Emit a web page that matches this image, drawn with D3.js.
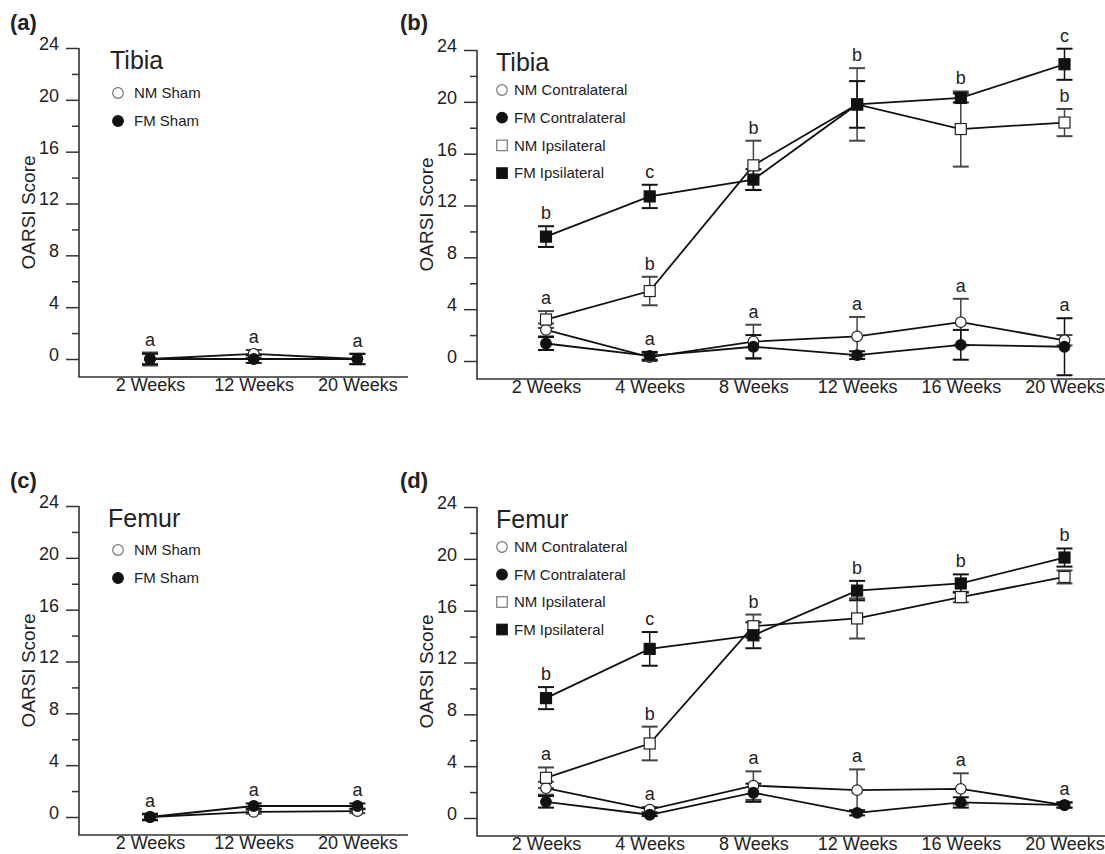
<!DOCTYPE html>
<html>
<head>
<meta charset="utf-8">
<script src="https://cdn.jsdelivr.net/npm/d3@7"></script>
<style>
  body { margin: 0; background: #fff; }
  text { font-family: "Liberation Sans", Arial, sans-serif; fill: #222; }
</style>
</head>
<body>
<div id="canvas"></div>
<script>
"use strict"

/***********************************
 DATA
************************************/
let shamWeeks = ["2 Weeks", "12 Weeks", "20 Weeks"];
let surgWeeks = ["2 Weeks", "4 Weeks", "8 Weeks", "12 Weeks", "16 Weeks", "20 Weeks"];
let yTicks = [0, 4, 8, 12, 16, 20, 24];
let yMinorTicks = [2, 6, 10, 14, 18, 22];

// (a) tibia sham
let tibiaShamNM = [0, 0.4, 0];
let tibiaShamNMErr = [0.5, 0.3, 0.4];
let tibiaShamFM = [0, 0, 0];
let tibiaShamFMErr = [0.4, 0.3, 0.4];

// (b) tibia surgical groups
let tibiaNMContra = [2.4, 0.3, 1.5, 1.9, 3.0, 1.6];
let tibiaNMContraErr = [0.5, 0.3, 1.3, 1.5, 1.8, 0.4];
let tibiaFMContra = [1.35, 0.4, 1.1, 0.45, 1.25, 1.1];
let tibiaFMContraErr = [0.5, 0.3, 0.9, 0.3, 1.15, 2.2];
let tibiaNMIpsi = [3.2, 5.4, 15.1, 19.8, 17.9, 18.4];
let tibiaNMIpsiErr = [0.65, 1.1, 1.9, 2.8, 2.9, 1.05];
let tibiaFMIpsi = [9.6, 12.7, 14.0, 19.8, 20.3, 22.9];
let tibiaFMIpsiErr = [0.8, 0.9, 0.8, 1.8, 0.35, 1.2];

// (c) femur sham
let femurShamNM = [0, 0.4, 0.45];
let femurShamNMErr = [0.2, 0.15, 0.15];
let femurShamFM = [0, 0.85, 0.85];
let femurShamFMErr = [0.25, 0.2, 0.2];

// (d) femur surgical groups
let femurNMContra = [2.3, 0.65, 2.5, 2.15, 2.25, 1.0];
let femurNMContraErr = [0.5, 0.2, 1.1, 1.6, 1.2, 0.2];
let femurFMContra = [1.25, 0.25, 1.95, 0.4, 1.2, 1.0];
let femurFMContraErr = [0.45, 0.1, 0.7, 0.2, 0.4, 0.2];
let femurNMIpsi = [3.1, 5.75, 14.8, 15.4, 17.05, 18.6];
let femurNMIpsiErr = [0.8, 1.3, 0.9, 1.55, 0.4, 0.5];
let femurFMIpsi = [9.25, 13.05, 14.1, 17.55, 18.1, 20.1];
let femurFMIpsiErr = [0.85, 1.3, 1.0, 0.75, 0.7, 0.7];

// significance letters: which series' error bars each letter sits above
// series order: 0 NM Contra, 1 FM Contra, 2 NM Ipsi, 3 FM Ipsi
let shamLetters = [
    { week: "2 Weeks", text: "a", over: [0, 1] },
    { week: "12 Weeks", text: "a", over: [0, 1] },
    { week: "20 Weeks", text: "a", over: [0, 1] }
];
let tibiaLetters = [
    { week: "2 Weeks", text: "b", over: [3] },
    { week: "2 Weeks", text: "a", over: [0, 1, 2] },
    { week: "4 Weeks", text: "c", over: [3] },
    { week: "4 Weeks", text: "b", over: [2] },
    { week: "4 Weeks", text: "a", over: [0, 1] },
    { week: "8 Weeks", text: "b", over: [2, 3] },
    { week: "8 Weeks", text: "a", over: [0, 1] },
    { week: "12 Weeks", text: "b", over: [2, 3] },
    { week: "12 Weeks", text: "a", over: [0, 1] },
    { week: "16 Weeks", text: "b", over: [2, 3] },
    { week: "16 Weeks", text: "a", over: [0, 1] },
    { week: "20 Weeks", text: "c", over: [3] },
    { week: "20 Weeks", text: "b", over: [2] },
    { week: "20 Weeks", text: "a", over: [0, 1] }
];
let femurLetters = [
    { week: "2 Weeks", text: "b", over: [3] },
    { week: "2 Weeks", text: "a", over: [0, 1, 2] },
    { week: "4 Weeks", text: "c", over: [3] },
    { week: "4 Weeks", text: "b", over: [2] },
    { week: "4 Weeks", text: "a", over: [0, 1] },
    { week: "8 Weeks", text: "b", over: [2, 3] },
    { week: "8 Weeks", text: "a", over: [0, 1] },
    { week: "12 Weeks", text: "b", over: [2, 3] },
    { week: "12 Weeks", text: "a", over: [0, 1] },
    { week: "16 Weeks", text: "b", over: [2, 3] },
    { week: "16 Weeks", text: "a", over: [0, 1] },
    { week: "20 Weeks", text: "b", over: [2, 3] },
    { week: "20 Weeks", text: "a", over: [0, 1] }
];

/***********************************
 CONFIGURATION
************************************/
let svgWidth = 1105;
let svgHeight = 854;
let axisSpan = 311;      // pixels between 0 and 24
let belowZero = 18;      // x axis sits this far below the 0 tick
let step = 103.7;        // spacing between weeks
let capWidth = 16;

let svg = d3.select("#canvas")
    .append("svg")
    .attr("width", svgWidth)
    .attr("height", svgHeight);

function shamSeries(nm, nmErr, fm, fmErr) {
    return [
        { name: "NM Sham", shape: "circle", filled: false, values: nm, errors: nmErr },
        { name: "FM Sham", shape: "circle", filled: true, values: fm, errors: fmErr }
    ];
}

function surgSeries(nmc, nmcErr, fmc, fmcErr, nmi, nmiErr, fmi, fmiErr) {
    return [
        { name: "NM Contralateral", shape: "circle", filled: false, values: nmc, errors: nmcErr },
        { name: "FM Contralateral", shape: "circle", filled: true, values: fmc, errors: fmcErr },
        { name: "NM Ipsilateral", shape: "square", filled: false, values: nmi, errors: nmiErr },
        { name: "FM Ipsilateral", shape: "square", filled: true, values: fmi, errors: fmiErr }
    ];
}

let panels = [
    { tag: "(a)", title: "Tibia", weeks: shamWeeks, letters: shamLetters,
      series: shamSeries(tibiaShamNM, tibiaShamNMErr, tibiaShamFM, tibiaShamFMErr),
      left: 79, right: 408, top: 48, first: 150, tagX: 10, tagY: 30,
      titleX: 110, legendX: 118, legendDY: 45, legendGap: 28 },
    { tag: "(b)", title: "Tibia", weeks: surgWeeks, letters: tibiaLetters,
      series: surgSeries(tibiaNMContra, tibiaNMContraErr, tibiaFMContra, tibiaFMContraErr,
                         tibiaNMIpsi, tibiaNMIpsiErr, tibiaFMIpsi, tibiaFMIpsiErr),
      left: 477, right: 1105, top: 50, first: 546, tagX: 400, tagY: 30,
      titleX: 496, legendX: 502, legendDY: 40, legendGap: 27.7 },
    { tag: "(c)", title: "Femur", weeks: shamWeeks, letters: shamLetters,
      series: shamSeries(femurShamNM, femurShamNMErr, femurShamFM, femurShamFMErr),
      left: 79, right: 408, top: 506, first: 150, tagX: 10, tagY: 488,
      titleX: 108, legendX: 118, legendDY: 44, legendGap: 28 },
    { tag: "(d)", title: "Femur", weeks: surgWeeks, letters: femurLetters,
      series: surgSeries(femurNMContra, femurNMContraErr, femurFMContra, femurFMContraErr,
                         femurNMIpsi, femurNMIpsiErr, femurFMIpsi, femurFMIpsiErr),
      left: 477, right: 1105, top: 507, first: 546, tagX: 400, tagY: 488,
      titleX: 496, legendX: 502, legendDY: 40, legendGap: 27.5 }
];

/***********************************
 MARKERS
************************************/
function drawMarker(g, shape, filled, x, y, legend) {
    let stroke = filled ? "#111" : (legend ? "#777" : "#222");
    let fill = filled ? "#111" : "#fff";
    if (shape === "circle") {
        g.append("circle")
            .attr("cx", x).attr("cy", y).attr("r", 5.3)
            .attr("fill", fill).attr("stroke", stroke).attr("stroke-width", 1.2);
    } else {
        let s = legend ? 10.5 : 11;
        g.append("rect")
            .attr("x", x - s / 2).attr("y", y - s / 2)
            .attr("width", s).attr("height", s)
            .attr("fill", fill).attr("stroke", stroke).attr("stroke-width", 1.2);
    }
}

/***********************************
 DRAW PANELS
************************************/
panels.forEach(p => {
    let g = svg.append("g");
    let zeroY = p.top + axisSpan;
    let bottom = zeroY + belowZero;

    let yScale = d3.scaleLinear()
        .domain([0, 24])
        .range([zeroY, p.top]);

    let xScale = d3.scalePoint()
        .domain(p.weeks)
        .range([p.first, p.first + step * (p.weeks.length - 1)]);

    // y axis: major and minor ticks
    let yAxis = g.append("g")
        .attr("transform", `translate(${p.left}, 0)`)
        .call(d3.axisLeft(yScale).tickValues(yTicks).tickSize(13).tickPadding(7).tickSizeOuter(0));
    yAxis.select(".domain").remove();
    yAxis.selectAll("line").attr("stroke", "#333").attr("stroke-width", 1.5);
    yAxis.selectAll("text")
        .attr("font-size", 18)
        .attr("font-family", "Liberation Sans, Arial, sans-serif")
        .attr("fill", "#222")
        .attr("dy", "0.08em");

    let yMinor = g.append("g")
        .attr("transform", `translate(${p.left}, 0)`)
        .call(d3.axisLeft(yScale).tickValues(yMinorTicks).tickSize(7).tickFormat(""));
    yMinor.select(".domain").remove();
    yMinor.selectAll("line").attr("stroke", "#333").attr("stroke-width", 1.5);

    // axis lines
    g.append("path")
        .attr("d", `M${p.left},${p.top}V${bottom}H${p.right}`)
        .attr("fill", "none")
        .attr("stroke", "#333")
        .attr("stroke-width", 1.6);

    // x axis labels
    let xAxis = g.append("g")
        .attr("transform", `translate(0, ${bottom})`)
        .call(d3.axisBottom(xScale).tickSize(0).tickPadding(1));
    xAxis.select(".domain").remove();
    xAxis.selectAll("text")
        .attr("font-size", 18)
        .attr("font-family", "Liberation Sans, Arial, sans-serif")
        .attr("fill", "#222");

    // y axis title
    g.append("text")
        .attr("transform", `translate(${p.left - 44}, ${(p.top + bottom) / 2}) rotate(-90)`)
        .attr("text-anchor", "middle")
        .attr("font-size", 19)
        .text("OARSI Score");

    // panel tag
    g.append("text")
        .attr("x", p.tagX)
        .attr("y", p.tagY)
        .attr("font-size", 22)
        .attr("font-weight", "bold")
        .text(p.tag);

    // panel title
    g.append("text")
        .attr("x", p.titleX)
        .attr("y", p.top + 21)
        .attr("font-size", 25)
        .text(p.title);

    // legend
    p.series.forEach((s, i) => {
        let ly = p.top + p.legendDY + i * p.legendGap;
        drawMarker(g, s.shape, s.filled, p.legendX, ly, true);
        g.append("text")
            .attr("x", p.legendX + (s.shape === "circle" && p.series.length === 2 ? 16 : 12))
            .attr("y", ly)
            .attr("dy", "0.35em")
            .attr("font-size", 15)
            .text(s.name);
    });

    // error bars
    p.series.forEach(s => {
        let col = s.filled ? "#111" : "#444";
        let eg = g.append("g");
        p.weeks.forEach((w, i) => {
            let x = xScale(w);
            let lo = yScale(s.values[i] - s.errors[i]);
            let hi = yScale(s.values[i] + s.errors[i]);
            eg.append("line")
                .attr("x1", x).attr("x2", x).attr("y1", lo).attr("y2", hi)
                .attr("stroke", col).attr("stroke-width", 1.5);
            [lo, hi].forEach(cy => {
                eg.append("line")
                    .attr("x1", x - capWidth / 2).attr("x2", x + capWidth / 2)
                    .attr("y1", cy).attr("y2", cy)
                    .attr("stroke", col).attr("stroke-width", 2);
            });
        });
    });

    // connecting lines
    let line = d3.line()
        .x(d => xScale(d.week))
        .y(d => yScale(d.value));
    p.series.forEach(s => {
        g.append("path")
            .datum(p.weeks.map((w, i) => ({ week: w, value: s.values[i] })))
            .attr("d", line)
            .attr("fill", "none")
            .attr("stroke", "#111")
            .attr("stroke-width", 1.8);
    });

    // markers
    p.series.forEach(s => {
        p.weeks.forEach((w, i) => {
            drawMarker(g, s.shape, s.filled, xScale(w), yScale(s.values[i]), false);
        });
    });

    // significance letters
    p.letters.forEach(l => {
        let i = p.weeks.indexOf(l.week);
        let top = d3.max(l.over, k => p.series[k].values[i] + p.series[k].errors[i]);
        g.append("text")
            .attr("x", xScale(l.week))
            .attr("y", yScale(top) - 7)
            .attr("text-anchor", "middle")
            .attr("font-size", 18)
            .text(l.text);
    });
});
</script>
</body>
</html>
